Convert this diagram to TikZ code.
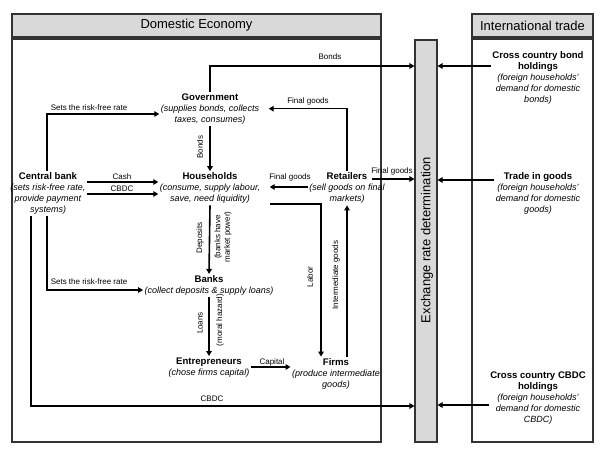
\documentclass[tikz,border=0pt]{standalone}
\usepackage{fontspec}
\setmainfont{Liberation Sans}
\usetikzlibrary{arrows.meta,calc}
\begin{document}
\begin{tikzpicture}[x=1pt,y=-1pt,
  arr/.style={line width=1.6pt,-{Triangle[length=5pt,width=5.5pt]}},
  frame/.style={draw=black!80,line width=1.1pt,inner sep=0pt},
  hdr/.style={frame,fill=black!15,font=\fontsize{13}{15}\selectfont},
  actor/.style={align=center,inner sep=1.5pt,font=\fontsize{9}{11}\selectfont},
  lbl/.style={font=\fontsize{8}{9.5}\selectfont,inner sep=0pt},
  vlbl/.style={lbl,rotate=90,align=center},
]
\newcommand{\ttl}[1]{{\fontsize{9.6}{11}\selectfont\bfseries #1}}
\useasboundingbox (0,0) rectangle (607,449);
% frames
\node[hdr,minimum width=369,minimum height=23] (dehdr) at (196.5,25.5) {Domestic Economy};
\node[frame,minimum width=369,minimum height=403] (debox) at (196.5,240.5) {};
\node[hdr,minimum width=121,minimum height=23] (ithdr) at (532.5,25.5) {International trade};
\node[frame,minimum width=121,minimum height=403] (itbox) at (532.5,240.5) {};
\node[frame,fill=black!15,minimum width=22,minimum height=402] (bar) at (426,241) {};
\node[rotate=90,font=\fontsize{13}{15}\selectfont,inner sep=0pt] (bartxt) at (427,240) {Exchange rate determination};
% actors
\node[actor] (gov) at (210,108.7) {\ttl{Government}\\\itshape (supplies bonds, collects\\\itshape taxes, consumes)};
\node[actor] (hh) at (210,188.3) {\ttl{Households}\\\itshape (consume, supply labour,\\\itshape save, need liquidity)};
\node[actor] (cb) at (48,193.8) {\ttl{Central bank}\\\itshape (sets risk-free rate,\\\itshape provide payment\\\itshape systems)};
\node[actor] (ret) at (347,188.3) {\ttl{Retailers}\\\itshape (sell goods on final\\\itshape markets)};
\node[actor] (banks) at (209,285.5) {\ttl{Banks}\\\itshape (collect deposits \& supply loans)};
\node[actor] (ent) at (209,367.5) {\ttl{Entrepreneurs}\\\itshape (chose firms capital)};
\node[actor] (firms) at (336,373.7) {\ttl{Firms}\\\itshape (produce intermediate\\\itshape goods)};
\node[actor] (bond) at (538,78.2) {\ttl{Cross country bond}\\\ttl{holdings}\\\itshape (foreign households'\\\itshape demand for domestic\\\itshape bonds)};
\node[actor] (trade) at (538,193.8) {\ttl{Trade in goods}\\\itshape (foreign households'\\\itshape demand for domestic\\\itshape goods)};
\node[actor] (cbdcx) at (538,397.6) {\ttl{Cross country CBDC}\\\ttl{holdings}\\\itshape (foreign households'\\\itshape demand for domestic\\\itshape CBDC)};
% levels
\coordinate (ybond) at (0,66);
\coordinate (ysrf) at (0,114);
\coordinate (ycash) at (0,182);
\coordinate (ycbdc) at (0,194);
\coordinate (yfgh) at (0,187);
\coordinate (yfgx) at (0,179);
\coordinate (ylab) at (0,204);
\coordinate (ytg) at (0,180);
\coordinate (ysrfb) at (0,290);
\coordinate (ycbdcb) at (0,406);
\coordinate (ycap) at (0,367);
\coordinate (ycx) at (0,405);
% connectors
\draw[arr] (gov.north) |- (bar.west |- ybond);
\draw[arr] ([xshift=-1pt]cb.north) |- (gov.west |- ysrf);
\draw[arr] (cb.east |- ycash) -- (hh.west |- ycash);
\draw[arr] (cb.east |- ycbdc) -- (hh.west |- ycbdc);
\draw[arr] (gov.south) -- (hh.north);
\draw[arr,shorten >=8pt] (ret.north) |- (gov.east);
\draw[arr,shorten >=8pt] (ret.west |- yfgh) -- (hh.east |- yfgh);
\draw[arr,shorten <=8pt] (hh.east |- ylab) -| ([xshift=-15pt]firms.north);
\draw[arr] ([xshift=11pt]firms.north) -- ([xshift=11pt]firms.north |- ret.south);
\draw[arr] ($(ret.center |- yfgx)+(25,0)$) -- (bar.west |- yfgx);
\draw[arr] (bond.west |- ybond) -- (bar.east |- ybond);
\draw[arr] (trade.west |- ytg) -- (bar.east |- ytg);
\draw[arr] (cbdcx.west |- ycx) -- (bar.east |- ycx);
\draw[arr] ([xshift=-17pt]cb.south) |- (bar.west |- ycbdcb);
\draw[arr] ([xshift=-1pt]cb.south) |- (banks.west |- ysrfb);
\draw[arr] (hh.south) -- (banks.north);
\draw[arr] (banks.south) -- (ent.north);
\draw[arr] (ent.east |- ycap) -- (firms.west |- ycap);
% labels
\node[lbl] (lbonds) at (330,57) {Bonds};
\node[lbl] (lsrf) at (89,108) {Sets the risk-free rate};
\node[lbl] (lfg1) at (308,101) {Final goods};
\node[lbl] (lcash) at (122,177) {Cash};
\node[lbl] (lcbdc) at (122,189) {CBDC};
\node[vlbl] (lbonds2) at (200,147) {Bonds};
\node[lbl] (lfg2) at (290,177) {Final goods};
\node[lbl] (lfg3) at (392,171) {Final goods};
\node[vlbl] (ldep) at (200,238) {Deposits};
\node[vlbl] (lmp) at (223,237) {(banks have\\market power)};
\node[lbl] (lsrf2) at (89,282) {Sets the risk-free rate};
\node[vlbl] (lloans) at (200,323) {Loans};
\node[vlbl] (lmh) at (220,320) {(moral hazard)};
\node[lbl] (lcap) at (272,362) {Capital};
\node[vlbl] (llab) at (310,277) {Labor};
\node[vlbl] (lint) at (336,275) {Intermediate goods};
\node[lbl] (lcbdc2) at (212,399) {CBDC};
\end{tikzpicture}
\end{document}
